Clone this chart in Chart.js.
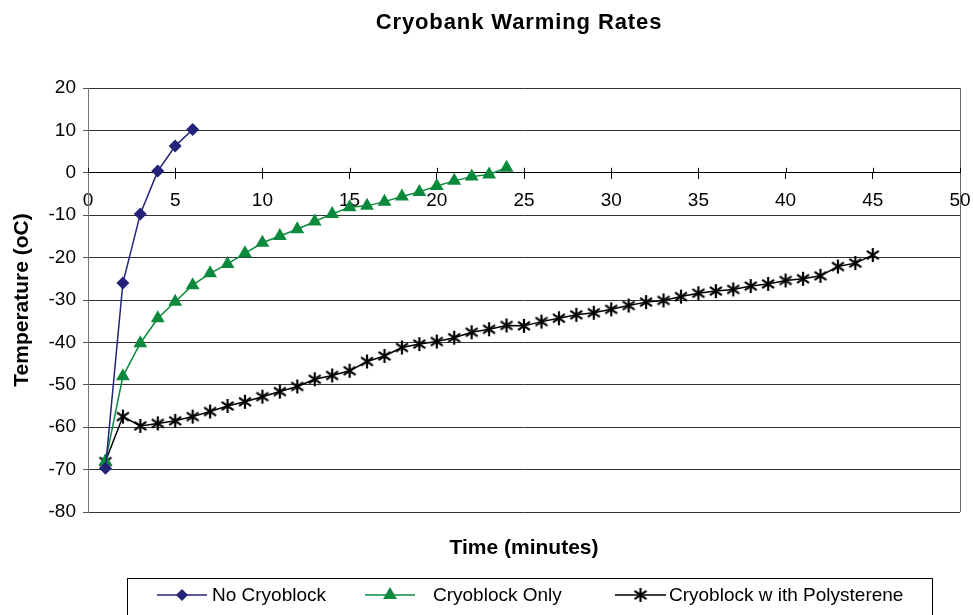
<!DOCTYPE html>
<html>
<head>
<meta charset="utf-8">
<script src="https://cdn.jsdelivr.net/npm/chart.js@4/dist/chart.umd.min.js"></script>
<style>
  html, body { margin: 0; padding: 0; background: #fff; }
  #wrap { width: 973px; height: 615px; position: relative; }
</style>
</head>
<body>
<div id="wrap"><canvas id="c" width="973" height="615"></canvas></div>
<script>
// ---- Data ----
const chartTitle = 'Cryobank Warming Rates';
const xTitle = 'Time (minutes)';
const yTitle = 'Temperature (oC)';
const seriesNames = ['No Cryoblock', 'Cryoblock Only', 'Cryoblock w ith Polysterene'];

const noCryoTime = [1, 2, 3, 4, 5, 6];
const noCryoTemp = [-69.7, -26, -9.7, 0.4, 6.3, 10.2];

const cryoOnlyTime = [1, 2, 3, 4, 5, 6, 7, 8, 9, 10, 11, 12, 13, 14, 15, 16, 17, 18, 19, 20, 21, 22, 23, 24];
const cryoOnlyTemp = [-68.1, -48, -40.2, -34.3, -30.4, -26.5, -23.7, -21.5, -19, -16.5, -14.9, -13.3,
  -11.5, -9.7, -8.1, -7.8, -6.8, -5.6, -4.5, -3.1, -1.9, -0.9, -0.4, 1.2];

const polyTime = [1, 2, 3, 4, 5, 6, 7, 8, 9, 10, 11, 12, 13, 14, 15, 16, 17, 18, 19, 20, 21, 22, 23,
  24, 25, 26, 27, 28, 29, 30, 31, 32, 33, 34, 35, 36, 37, 38, 39, 40, 41, 42, 43, 44, 45];
const polyTemp = [-68.1, -57.5, -59.7, -59.1, -58.5, -57.5, -56.3, -55, -54, -52.8, -51.6, -50.4,
  -48.7, -47.8, -46.7, -44.5, -43.2, -41.2, -40.4, -39.8, -38.9, -37.6, -36.9, -36, -36.1, -35.1,
  -34.3, -33.5, -33, -32.2, -31.3, -30.5, -30.1, -29.2, -28.4, -27.9, -27.5, -26.7, -26.2, -25.4,
  -25, -24.3, -22.1, -21.3, -19.4];

const xMin = 0, xMax = 50, xStep = 5;
const yMin = -80, yMax = 20, yStep = 10;

// ---- Styles ----
const colNavy = '#23237a';
const colGreen = '#0b8a3e';
const colBlack = '#000000';
const FONT = '"Liberation Sans", Arial, Helvetica, sans-serif';

function toXY(xs, ys) { return xs.map((x, i) => ({ x: x, y: ys[i] })); }

function makeStar(size, color, lw) {
  const c = document.createElement('canvas');
  c.width = size; c.height = size;
  const g = c.getContext('2d');
  g.strokeStyle = color; g.lineWidth = lw; g.lineCap = 'butt';
  const m = size / 2, r = size / 2 - 1;
  g.beginPath();
  g.moveTo(m, m - r); g.lineTo(m, m + r);
  const d = r * 0.85;
  g.moveTo(m - d, m - d * 0.7); g.lineTo(m + d, m + d * 0.7);
  g.moveTo(m - d, m + d * 0.7); g.lineTo(m + d, m - d * 0.7);
  g.stroke();
  return c;
}
const starImg = makeStar(16, '#000', 2.2);

function drawDiamond(ctx, x, y, r, color) {
  ctx.fillStyle = color;
  ctx.beginPath();
  ctx.moveTo(x, y - r); ctx.lineTo(x + r, y); ctx.lineTo(x, y + r); ctx.lineTo(x - r, y);
  ctx.closePath(); ctx.fill();
}
function drawTriangle(ctx, x, y, r, color) {
  ctx.fillStyle = color;
  const h = r * Math.sqrt(3) / 2;
  ctx.beginPath();
  ctx.moveTo(x, y - r); ctx.lineTo(x + h, y + r / 2); ctx.lineTo(x - h, y + r / 2);
  ctx.closePath(); ctx.fill();
}

const decorPlugin = {
  id: 'decor',
  afterDraw(chart) {
    const ctx = chart.ctx;
    const ca = chart.chartArea;
    const xs = chart.scales.x, ys = chart.scales.y;
    ctx.save();
    // right plot border
    ctx.strokeStyle = '#666';
    ctx.lineWidth = 1;
    ctx.beginPath();
    ctx.moveTo(Math.round(ca.right) + 0.5, ca.top);
    ctx.lineTo(Math.round(ca.right) + 0.5, ca.bottom);
    ctx.stroke();
    // upper half of x tick marks (crossing the axis)
    const y0 = ys.getPixelForValue(0);
    ctx.strokeStyle = '#000';
    ctx.beginPath();
    xs.ticks.forEach(t => {
      const px = Math.round(xs.getPixelForValue(t.value)) + 0.5;
      ctx.moveTo(px, y0 - 5); ctx.lineTo(px, y0);
    });
    ctx.stroke();

    // title
    ctx.fillStyle = '#000';
    ctx.textAlign = 'center';
    ctx.textBaseline = 'middle';
    ctx.font = 'bold 22px ' + FONT;
    try { ctx.letterSpacing = '0.9px'; } catch (e) {}
    ctx.fillText(chartTitle, 519, 23);
    try { ctx.letterSpacing = '0px'; } catch (e) {}
    // axis titles
    ctx.font = 'bold 21px ' + FONT;
    ctx.fillText(xTitle, (ca.left + ca.right) / 2, 548);
    ctx.save();
    ctx.translate(22, (ca.top + ca.bottom) / 2);
    ctx.rotate(-Math.PI / 2);
    ctx.fillText(yTitle, 0, 0);
    ctx.restore();

    // legend
    ctx.strokeStyle = '#000';
    ctx.lineWidth = 1;
    ctx.strokeRect(127.5, 578.5, 805, 60);
    const ly = 595;
    const items = [
      { l: 157, r: 207, t: 212, color: colNavy, mk: 'd' },
      { l: 365, r: 415, t: 433, color: colGreen, mk: 't' },
      { l: 615, r: 666, t: 669, color: colBlack, mk: 's' }
    ];
    ctx.font = '19px ' + FONT;
    ctx.textAlign = 'left';
    items.forEach((it, i) => {
      ctx.strokeStyle = it.color;
      ctx.lineWidth = 1.5;
      ctx.beginPath(); ctx.moveTo(it.l, ly); ctx.lineTo(it.r, ly); ctx.stroke();
      const mx = (it.l + it.r) / 2;
      if (it.mk === 'd') drawDiamond(ctx, mx, ly, 6, it.color);
      else if (it.mk === 't') drawTriangle(ctx, mx, ly, 8, it.color);
      else ctx.drawImage(starImg, mx - 8, ly - 8);
      ctx.fillStyle = '#000';
      ctx.fillText(seriesNames[i], it.t, ly + 1);
    });
    ctx.restore();
  }
};

new Chart(document.getElementById('c'), {
  type: 'line',
  data: {
    datasets: [
      {
        label: seriesNames[0], data: toXY(noCryoTime, noCryoTemp),
        borderColor: colNavy, backgroundColor: colNavy, borderWidth: 1.5,
        pointStyle: 'rectRot', pointRadius: 6.5, pointBorderWidth: 0, pointHoverRadius: 6.5
      },
      {
        label: seriesNames[1], data: toXY(cryoOnlyTime, cryoOnlyTemp),
        borderColor: colGreen, backgroundColor: colGreen, borderWidth: 1.5,
        pointStyle: 'triangle', pointRadius: 8, pointBorderWidth: 0, pointHoverRadius: 8
      },
      {
        label: seriesNames[2], data: toXY(polyTime, polyTemp),
        borderColor: colBlack, backgroundColor: colBlack, borderWidth: 1.5,
        pointStyle: starImg, pointRadius: 8, pointHoverRadius: 8
      }
    ]
  },
  options: {
    responsive: false,
    animation: false,
    events: [],
    layout: { padding: { left: 0, right: 13, top: 88, bottom: 103 } },
    plugins: { legend: { display: false }, title: { display: false }, tooltip: { enabled: false } },
    scales: {
      x: {
        type: 'linear', min: xMin, max: xMax,
        position: { y: 0 },
        afterFit(s) { s.paddingLeft = 0; s.paddingRight = 0; },
        ticks: { stepSize: xStep, color: '#000', font: { family: FONT, size: 19 }, padding: 11, maxRotation: 0 },
        grid: { drawOnChartArea: false, color: '#000', tickLength: 6, tickColor: '#000' },
        border: { color: '#000', width: 1 }
      },
      y: {
        type: 'linear', min: yMin, max: yMax,
        afterFit(s) { s.width = 88; s.paddingTop = 0; s.paddingBottom = 0; },
        ticks: { stepSize: yStep, color: '#000', font: { family: FONT, size: 19 }, padding: 7 },
        grid: { color: '#333', lineWidth: 1, tickLength: 5, tickColor: '#555' },
        border: { color: '#777', width: 1 }
      }
    }
  },
  plugins: [decorPlugin]
});
</script>
</body>
</html>
